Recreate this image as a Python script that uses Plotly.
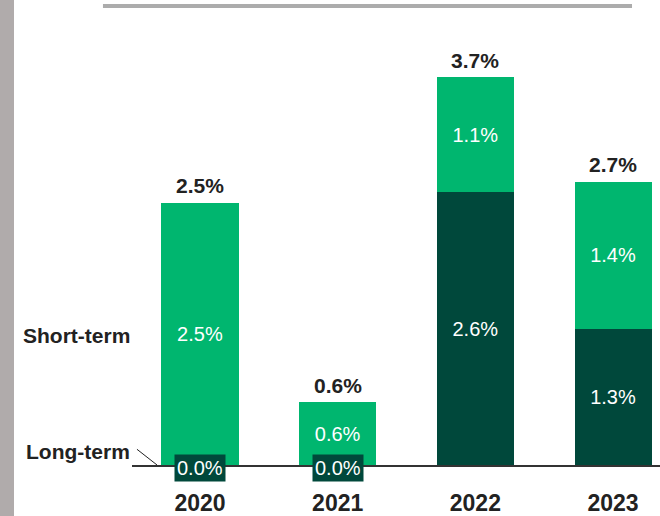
import plotly.graph_objects as go

years = ["2020", "2021", "2022", "2023"]
long_term = [0.0, 0.0, 2.6, 1.3]
short_term = [2.5, 0.6, 1.1, 1.4]
totals = [2.5, 0.6, 3.7, 2.7]

DARK = "#00483B"
LIGHT = "#00B66F"
FONT = "Liberation Sans, Arial, sans-serif"

x = list(range(len(years)))

fig = go.Figure()

fig.add_trace(go.Bar(
    x=x, y=long_term, name="Long-term",
    marker=dict(color=DARK, line=dict(width=0)),
    text=["" if v == 0 else f"{v:.1f}%" for v in long_term],
    textposition="inside", insidetextanchor="middle",
    textfont=dict(color="white", size=20, family=FONT),
    width=0.56,
))
fig.add_trace(go.Bar(
    x=x, y=short_term, name="Short-term",
    marker=dict(color=LIGHT, line=dict(width=0)),
    text=[f"{v:.1f}%" for v in short_term],
    textposition="inside", insidetextanchor="middle",
    textfont=dict(color="white", size=20, family=FONT),
    width=0.56,
))

# totals above the bars
for i, t in enumerate(totals):
    fig.add_annotation(x=i, y=t, text=f"<b>{t:.1f}%</b>", showarrow=False,
                       yanchor="middle", yshift=17,
                       font=dict(size=21, color="#222222", family=FONT))

# zero long-term values shown as boxes on the baseline
for i, v in enumerate(long_term):
    if v == 0:
        fig.add_annotation(x=i, y=0, text=f"{v:.1f}%", showarrow=False,
                           yanchor="middle", yshift=-3, bgcolor=DARK,
                           borderpad=2,
                           font=dict(size=20, color="white", family=FONT))

# series labels on the left
fig.add_annotation(xref="paper", x=0.0, y=short_term[0] / 2 + long_term[0],
                   text="<b>Short-term</b>", showarrow=False, xanchor="right",
                   yshift=-2, font=dict(size=21, color="#222222", family=FONT))
fig.add_annotation(xref="paper", x=0.0, y=0.133,
                   text="<b>Long-term</b>", showarrow=False, xanchor="right",
                   font=dict(size=21, color="#222222", family=FONT))
fig.add_shape(type="line", xref="x", yref="y", x0=-0.458, y0=0.15, x1=-0.312, y1=0,
              line=dict(color="#222222", width=1))

# grey frame decorations
fig.add_shape(type="rect", xref="paper", yref="paper", x0=-0.25, x1=-0.2235,
              y0=-0.2, y1=1.1, fillcolor="#B0ABAB", line=dict(width=0), layer="below")
fig.add_shape(type="rect", xref="paper", yref="paper", x0=-0.055, x1=0.947,
              y0=1.0066, y1=1.0154, fillcolor="#ACACAC", line=dict(width=0))

fig.update_layout(
    barmode="stack",
    width=660, height=516,
    margin=dict(l=132, r=0, t=11, b=49),
    plot_bgcolor="white", paper_bgcolor="white",
    showlegend=False,
    font=dict(family=FONT),
    uniformtext=dict(minsize=10, mode="show"),
)
fig.update_xaxes(
    tickmode="array", tickvals=x, ticktext=[f"<b>{y}</b>" for y in years],
    range=[-0.494, 3.341], showgrid=False, zeroline=False,
    showline=True, linecolor="#333333", linewidth=1.5,
    ticks="", ticklabelstandoff=17,
    tickfont=dict(size=23, color="#222222", family=FONT),
)
fig.update_yaxes(range=[0, 4.33], visible=False)

fig.write_html("out.html", config=dict(displayModeBar=False),
               post_script="document.body.style.margin='0';")
